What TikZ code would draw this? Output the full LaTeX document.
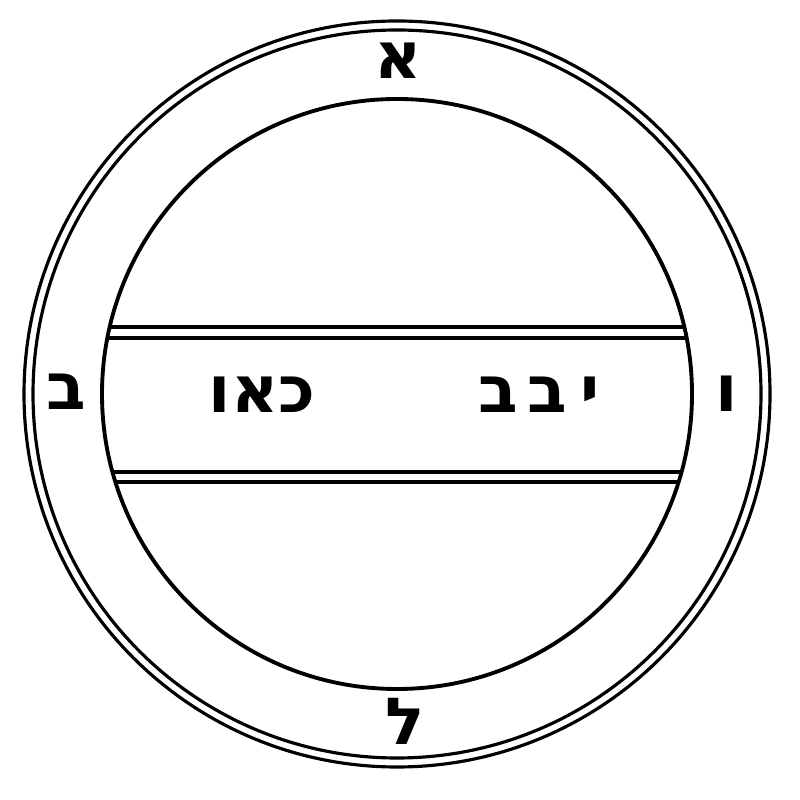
\documentclass[tikz,border=0pt]{standalone}
\usepackage{fontspec}
\newfontfamily\hebfont[Script=Hebrew]{DejaVu Sans}
\TeXXeTstate=1
\tikzset{
  letter/.style={font=\hebfont\bfseries\fontsize{37}{40}\selectfont, inner sep=0pt},
  ring/.style={line width=1.8pt},
}
\begin{document}
\begin{tikzpicture}[x=0.02cm, y=0.02cm]
   \def\cx{397}
   \def\cy{406}
   \useasboundingbox (0,0) rectangle (800,800);
   \draw[ring] (\cx,\cy) circle (373);   % outer ring
   \draw[ring] (\cx,\cy) circle (364);
   \draw[line width=2.2pt] (\cx,\cy) circle (295);   % inner circle
   % band lines, offsets from the centre
   \foreach \d in {67,56,-78,-88}
      \draw[ring] ({\cx-100*sqrt(2.95^2-(\d/100)^2)},\cy+\d) -- ({\cx+100*sqrt(2.95^2-(\d/100)^2)},\cy+\d);
   \node[letter] (alef) at (398,739) {\beginR א\endR};
   \node[letter] (bet) at (66,408) {\beginR ב\endR};
   \node[letter] (vav) at (727,406) {\beginR ו\endR};
   \node[letter] (lamed) at (405,79) {\beginR ל\endR};
   \node[letter, anchor=base] (left word) at (262,387) {\beginR כאו\endR};
   \node[letter, anchor=base] (right word) at (539,387) {\beginR י\hspace{0.2em}ב\hspace{0.15em}ב\endR};
\end{tikzpicture}
\end{document}
